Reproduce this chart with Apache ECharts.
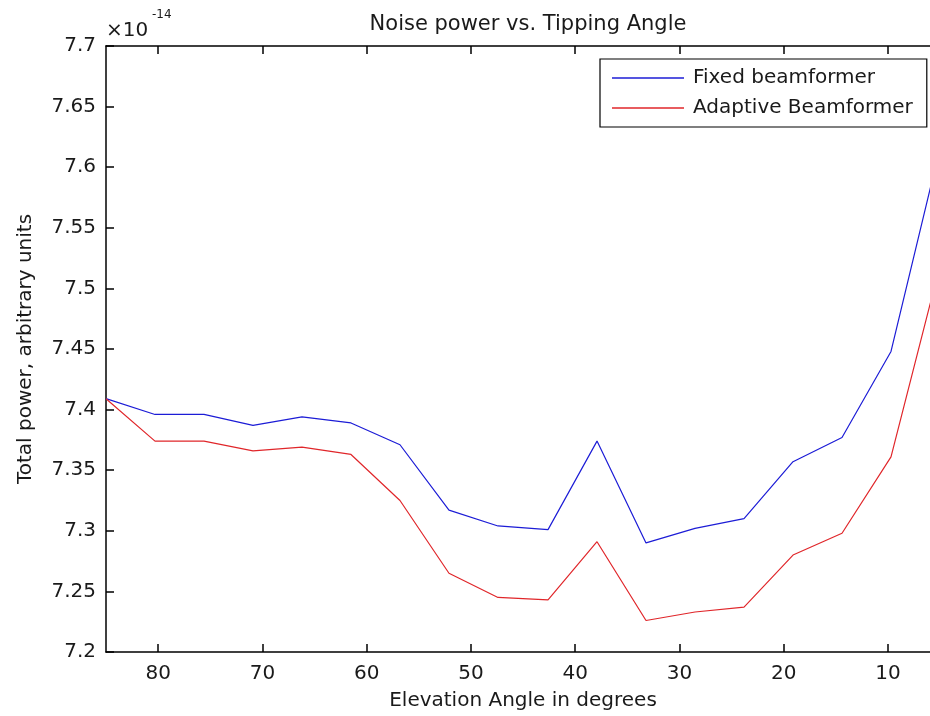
<!DOCTYPE html>
<html>
<head>
<meta charset="utf-8">
<script src="https://cdn.jsdelivr.net/npm/echarts@6/dist/echarts.min.js"></script>
<style>html,body{margin:0;padding:0;background:#fff;overflow:hidden;width:930px;height:716px;}#c{width:960px;height:716px;}</style>
</head>
<body>
<div id="c"></div>
<script>
// Elevation angles (degrees)
const angles = [85, 80.3, 75.6, 70.9, 66.2, 61.5, 56.8, 52.1, 47.4, 42.6, 37.9, 33.2, 28.5, 23.8, 19.1, 14.4, 9.7, 5];
// Total power (x 1e-14)
const fixedBF = [7.409, 7.396, 7.396, 7.387, 7.394, 7.389, 7.371, 7.317, 7.304, 7.301, 7.374, 7.290, 7.302, 7.310, 7.357, 7.377, 7.448, 7.616];
const adaptiveBF = [7.409, 7.374, 7.374, 7.366, 7.369, 7.363, 7.325, 7.265, 7.245, 7.243, 7.291, 7.226, 7.233, 7.237, 7.280, 7.298, 7.361, 7.519];
const xTicks = [80, 70, 60, 50, 40, 30, 20, 10];
const seriesNames = ['Fixed beamformer', 'Adaptive Beamformer'];
const titleText = 'Noise power vs. Tipping Angle';
const xName = 'Elevation Angle in degrees';
const yName = 'Total power, arbitrary units';

const FONT = 'DejaVu Sans';
const FS = 20;
const TXT = '#1a1a1a';

const chart = echarts.init(document.getElementById('c'), null, {renderer: 'canvas'});
const pairs = (xs, ys) => xs.map((x, i) => [x, ys[i]]);

const axisLineStyle = {color: '#000', width: 1.5};

chart.setOption({
  backgroundColor: '#fff',
  animation: false,
  title: {
    text: titleText,
    left: 523, top: 9, textAlign: 'center',
    textStyle: {fontFamily: FONT, fontSize: 21, fontWeight: 'normal', color: TXT}
  },
  legend: {
    left: 600, top: 59, orient: 'vertical',
    icon: 'rect', itemWidth: 72, itemHeight: 1.5, itemGap: 10,
    padding: [9, 14, 9, 12],
    borderColor: '#000', borderWidth: 1.2, backgroundColor: '#fff',
    textStyle: {fontFamily: FONT, fontSize: FS, color: TXT, lineHeight: 20, padding: [0, 0, 0, 4]},
    data: seriesNames
  },
  grid: {left: 106, top: 46, width: 834, height: 610, containLabel: false},
  xAxis: [{
    type: 'value', inverse: true, min: 5, max: 85,
    position: 'bottom',
    name: xName, nameLocation: 'middle', nameGap: 39,
    nameTextStyle: {fontFamily: FONT, fontSize: FS, color: TXT},
    axisLine: {show: true, lineStyle: axisLineStyle},
    axisTick: {show: true, inside: true, length: 8, customValues: xTicks, lineStyle: {color: '#000', width: 1.5}},
    axisLabel: {show: true, customValues: xTicks, margin: 12, fontFamily: FONT, fontSize: FS, color: TXT},
    splitLine: {show: false}
  }, {
    type: 'value', inverse: true, min: 5, max: 85,
    position: 'top',
    axisLine: {show: true, lineStyle: axisLineStyle},
    axisTick: {show: true, inside: true, length: 8, customValues: xTicks, lineStyle: {color: '#000', width: 1.5}},
    axisLabel: {show: false},
    splitLine: {show: false}
  }],
  yAxis: [{
    type: 'value', min: 7.2, max: 7.7, interval: 0.05,
    name: yName, nameLocation: 'middle', nameGap: 70, nameRotate: 90,
    nameTextStyle: {fontFamily: FONT, fontSize: FS, color: TXT},
    axisLine: {show: true, lineStyle: axisLineStyle},
    axisTick: {show: true, inside: true, length: 8, lineStyle: {color: '#000', width: 1.5}},
    axisLabel: {margin: 10, fontFamily: FONT, fontSize: FS, color: TXT,
      formatter: v => String(parseFloat(v.toFixed(2)))},
    splitLine: {show: false}
  }, {
    type: 'value', min: 7.2, max: 7.7, interval: 0.05, position: 'right',
    axisLine: {show: true, lineStyle: axisLineStyle},
    axisTick: {show: true, inside: true, length: 8, lineStyle: {color: '#000', width: 1.5}},
    axisLabel: {show: false},
    splitLine: {show: false}
  }],
  graphic: [
    {type: 'text', left: 106, top: 21, z: 10,
     style: {text: '\u00d710', fontFamily: FONT, fontSize: FS, fill: TXT}},
    {type: 'text', left: 152, top: 9, z: 10,
     style: {text: '-14', fontFamily: FONT, fontSize: 12, fill: TXT}}
  ],
  series: [{
    name: seriesNames[0], type: 'line', symbol: 'none',
    data: pairs(angles, fixedBF),
    lineStyle: {color: '#1c1cd6', width: 1.2}, itemStyle: {color: '#1c1cd6'}
  }, {
    name: seriesNames[1], type: 'line', symbol: 'none',
    data: pairs(angles, adaptiveBF),
    lineStyle: {color: '#e0262a', width: 1.2}, itemStyle: {color: '#e0262a'}
  }]
});
</script>
</body>
</html>
